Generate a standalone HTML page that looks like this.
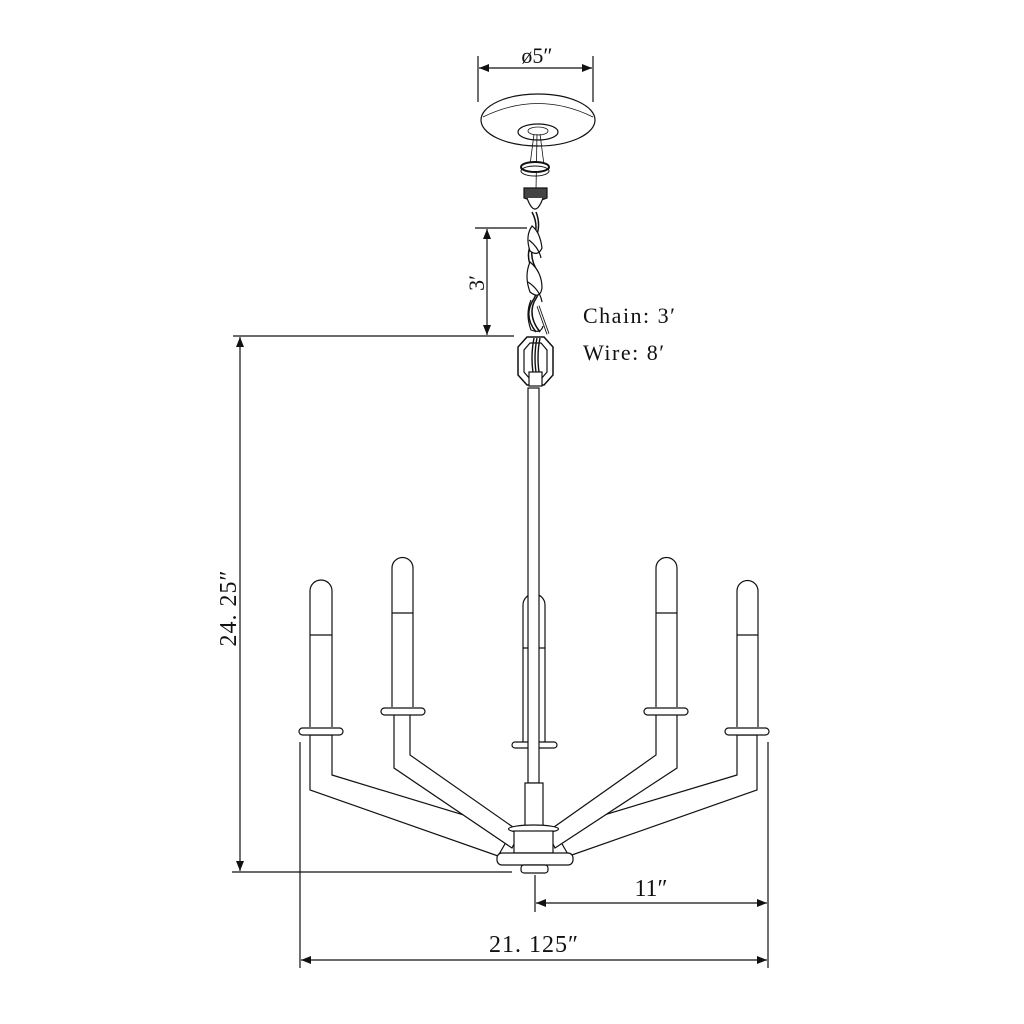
<!DOCTYPE html>
<html><head><meta charset="utf-8"><style>
html,body{margin:0;padding:0;background:#fff;}
svg{display:block;}
text{font-family:"Liberation Serif",serif;fill:#111;}
</style></head><body>
<svg width="1024" height="1024" viewBox="0 0 1024 1024" xmlns="http://www.w3.org/2000/svg">
<defs>
<marker id="a" viewBox="0 0 10 10" refX="10" refY="5" markerWidth="16" markerHeight="10" markerUnits="userSpaceOnUse" orient="auto-start-reverse"><path d="M0,1 L10,5 L0,9 z" fill="#111"/></marker>
</defs>
<g stroke="#111" stroke-width="1.2" fill="none">
<line x1="478" y1="56" x2="478" y2="102"/><line x1="593" y1="56" x2="593" y2="102"/>
<line x1="479" y1="68" x2="592" y2="68" marker-start="url(#a)" marker-end="url(#a)"/>
<ellipse cx="538" cy="120" rx="57" ry="26" fill="#fff"/>
<path d="M483,117 Q538,90 593,117" stroke-width="0.8"/>
<ellipse cx="538" cy="132" rx="20" ry="8"/>
<ellipse cx="538" cy="131" rx="10" ry="4" stroke-width="0.8"/>
<path d="M534,134 L530,165 M540,134 L544,165 M537,134 L536,190" stroke-width="0.8"/>
<ellipse cx="535" cy="167" rx="14" ry="5" fill="#fff" stroke-width="2"/>
<ellipse cx="535" cy="171" rx="14" ry="5" stroke-width="1"/>
<path d="M524,188 h23 v10 q-11,5 -23,0 z" fill="#444"/>
<path d="M527,198 q8,22 16,0" fill="#fff"/>
<path d="M532,212 q8,15 0,30 q-8,15 2,30 q8,15 -2,30 q-8,15 4,30" stroke-width="1.5"/>
<path d="M536,212 q6,15 -2,30 q-6,15 4,30 q6,15 -4,30 q-6,15 6,30" stroke-width="1.5"/>
<path d="M532,226 q-7,10 -2,25 q8,6 12,-3 q-2,-16 -10,-22z" fill="#fff"/>
<path d="M529,240 q10,8 12,18" />
<path d="M530,262 q-6,14 0,30 q10,8 12,-4 q0,-16 -12,-26z" fill="#fff"/>
<path d="M528,282 q12,8 14,20" />
<path d="M531,300 q-6,14 0,30 q10,4 12,-4" />
<path d="M538,306 l10,28" stroke-width="3"/><path d="M538,306 l10,28" stroke="#fff" stroke-width="1.2"/>
<path d="M527,337 h17 l9,10 v28 l-9,10 h-17 l-9,-10 v-28 z" fill="#fff" stroke-width="1.5"/>
<path d="M530,343 h11 l6,7 v22 l-6,7 h-11 l-6,-7 v-22 z"/>
<path d="M534,338 q-4,20 0,40 M537,338 q-4,20 0,40 M540,338 q-4,20 0,40" stroke-width="1.4"/>
<rect x="529" y="372" width="13" height="14" fill="#fff"/>
<line x1="475" y1="228" x2="527" y2="228"/>
<line x1="487" y1="229" x2="487" y2="335" marker-start="url(#a)" marker-end="url(#a)"/>
<line x1="233" y1="336" x2="514" y2="336"/>
<line x1="240" y1="337" x2="240" y2="871" marker-start="url(#a)" marker-end="url(#a)"/>
<line x1="232" y1="872" x2="512" y2="872"/>
</g>
<g stroke="#111" stroke-width="1.2" fill="#fff">
<path d="M523,743 V605 a11,11 0 0 1 22,0 V743"/>
<line x1="523" y1="648" x2="545" y2="648"/>
<rect x="512" y="742" width="45" height="6" rx="3"/>
<rect x="528" y="388" width="11" height="395"/>
<path d="M310,735 V790 L498,856 L513,830 L332,775 V735 Z"/>
<path d="M394,714 V768 L512,848 L520,832 L410,755 V714 Z"/>
<path d="M757,735 V790 L569,856 L554,830 L737,775 V735 Z"/>
<path d="M677,714 V768 L555,848 L547,832 L656,755 V714 Z"/>
<rect x="525" y="783" width="18" height="45"/>
<ellipse cx="533.5" cy="829" rx="25" ry="4"/>
<rect x="514" y="831" width="39" height="22"/>
<rect x="497" y="853" width="76" height="12" rx="5"/>
<rect x="521" y="865" width="27" height="8" rx="3"/>
<path d="M310,727 V591 a11,11 0 0 1 22,0 V727"/><line x1="310" y1="635" x2="332" y2="635"/>
<rect x="299" y="728" width="44" height="7" rx="3.5"/>
<path d="M392,707 V568 a10.5,10.5 0 0 1 21,0 V707"/><line x1="392" y1="613" x2="413" y2="613"/>
<rect x="381" y="708" width="44" height="7" rx="3.5"/>
<path d="M656,707 V568 a10.5,10.5 0 0 1 21,0 V707"/><line x1="656" y1="613" x2="677" y2="613"/>
<rect x="644" y="708" width="44" height="7" rx="3.5"/>
<path d="M737,727 V591 a10.5,10.5 0 0 1 21,0 V727"/><line x1="737" y1="635" x2="758" y2="635"/>
<rect x="725" y="728" width="44" height="7" rx="3.5"/>
</g>
<g stroke="#111" stroke-width="1.2" fill="none">
<line x1="300" y1="742" x2="300" y2="968"/><line x1="768" y1="742" x2="768" y2="968"/>
<line x1="535" y1="875" x2="535" y2="912"/>
<line x1="536" y1="903" x2="767" y2="903" marker-start="url(#a)" marker-end="url(#a)"/>
<line x1="301" y1="960" x2="767" y2="960" marker-start="url(#a)" marker-end="url(#a)"/>
</g>
<text x="537" y="63" font-size="22" text-anchor="middle">ø5″</text>
<text x="583" y="323" font-size="22" letter-spacing="1.5">Chain: 3′</text>
<text x="583" y="360" font-size="22" letter-spacing="1.5">Wire: 8′</text>
<text transform="translate(484,283) rotate(-90)" font-size="22" text-anchor="middle">3′</text>
<text transform="translate(236,608) rotate(-90)" font-size="24" text-anchor="middle" letter-spacing="1">24. 25″</text>
<text x="651" y="896" font-size="24" text-anchor="middle">11″</text>
<text x="534" y="952" font-size="24" text-anchor="middle" letter-spacing="1">21. 125″</text>
</svg>
</body></html>
